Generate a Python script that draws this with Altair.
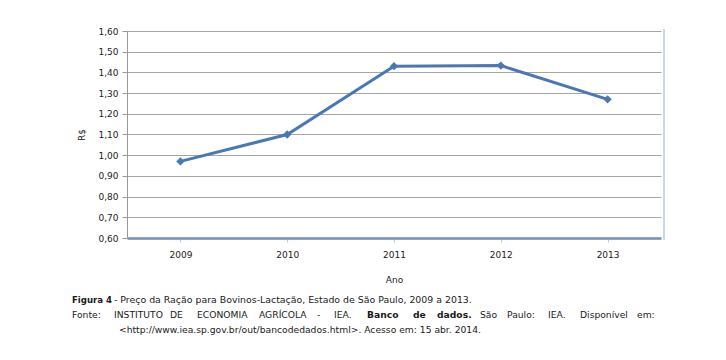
import altair as alt
import pandas as pd

# ---- data ----
anos = ["2009", "2010", "2011", "2012", "2013"]
precos = [0.97, 1.10, 1.43, 1.433, 1.27]
y_ticks = [0.6, 0.7, 0.8, 0.9, 1.0, 1.1, 1.2, 1.3, 1.4, 1.5, 1.6]

caption1_bold = "Figura 4"
caption1_rest = "- Preço da Ração para Bovinos-Lactação, Estado de São Paulo, 2009 a 2013."
caption2_words = ["Fonte:", "INSTITUTO", "DE", "ECONOMIA", "AGRÍCOLA", "-", "IEA.",
                  "Banco", "de", "dados.", "São", "Paulo:", "IEA.", "Disponível", "em:"]
caption2_bold = [False, False, False, False, False, False, False,
                 True, True, True, False, False, False, False, False]
caption3 = "<http://www.iea.sp.gov.br/out/bancodedados.html>. Acesso em: 15 abr. 2014."

df = pd.DataFrame({"Ano": anos, "Preco": precos})

# ---- layout (styling only) ----
W, H = 534, 207
OX, OY = 127, 31  # plot origin in page coords (incl. 8px margin)
FONT = "DejaVu Sans"
LINE_COLOR = "#4a78b4"
word_x = [72, 114, 170, 197, 259, 317, 334, 367, 413, 437, 480, 507, 548, 580, 637]

x_enc = alt.X("Ano:O", title="Ano",
              scale=alt.Scale(type="point", padding=0.5),
              axis=alt.Axis(labelAngle=0, labelFont=FONT, labelFontSize=9,
                            labelColor="#222", labelPadding=8,
                            titleFont=FONT, titleFontSize=9, titleFontWeight="normal",
                            titleColor="#222", titlePadding=16,
                            domainColor="#6f90c0", domainWidth=3, domainOpacity=0.8,
                            tickColor="#c8c8c8", tickSize=4, grid=False))
y_enc = alt.Y("Preco:Q", title="R$",
              scale=alt.Scale(domain=[0.6, 1.6], nice=False, zero=False),
              axis=alt.Axis(values=y_ticks, labelOverlap=False,
                            labelExpr="replace(format(datum.value, '.2f'), '.', ',')",
                            labelFont=FONT, labelFontSize=9, labelColor="#222",
                            labelPadding=4, tickSize=5, tickColor="#999",
                            domainColor="#999", domainWidth=1,
                            gridColor="#a6a6a6", gridWidth=1,
                            titleFont=FONT, titleFontSize=9, titleFontWeight="normal",
                            titleColor="#222", titlePadding=11))

base = alt.Chart(df)
line = base.mark_line(color=LINE_COLOR, strokeWidth=3).encode(x=x_enc, y=y_enc)
pts = base.mark_point(shape="diamond", filled=True, size=70, opacity=1,
                      color=LINE_COLOR).encode(x=x_enc, y=y_enc)

one = pd.DataFrame({"k": [0]})

def txt(s, x, y, bold=False, size=9.2):
    return alt.Chart(one).mark_text(
        align="left", baseline="middle", font=FONT, fontSize=size,
        fontWeight="bold" if bold else "normal", color="#1a1a1a"
    ).encode(x=alt.value(x - OX), y=alt.value(y - OY), text=alt.value(s))

right_edge = alt.Chart(one).mark_rule(color="#c9d8ec", strokeWidth=2).encode(
    x=alt.value(W + 3), y=alt.value(-2), y2=alt.value(H + 2))

layers = [line, pts, right_edge,
          txt(caption1_bold, 72, 300, bold=True, size=8.6),
          txt(caption1_rest, 114, 300, size=9.4)]
for w, b, xx in zip(caption2_words, caption2_bold, word_x):
    layers.append(txt(w, xx, 315, bold=b))
layers.append(txt(caption3, 119, 330))

chart = alt.layer(*layers).properties(
    width=W, height=H,
    autosize=alt.AutoSizeParams(type="none"),
    padding={"left": OX - 8, "top": OY - 8, "right": 726 - 16 - (OX - 8) - W,
             "bottom": 360 - 16 - (OY - 8) - H},
    background="white",
).configure_view(stroke=None)

chart.save("out.html", embed_options={"renderer": "svg", "actions": False})
